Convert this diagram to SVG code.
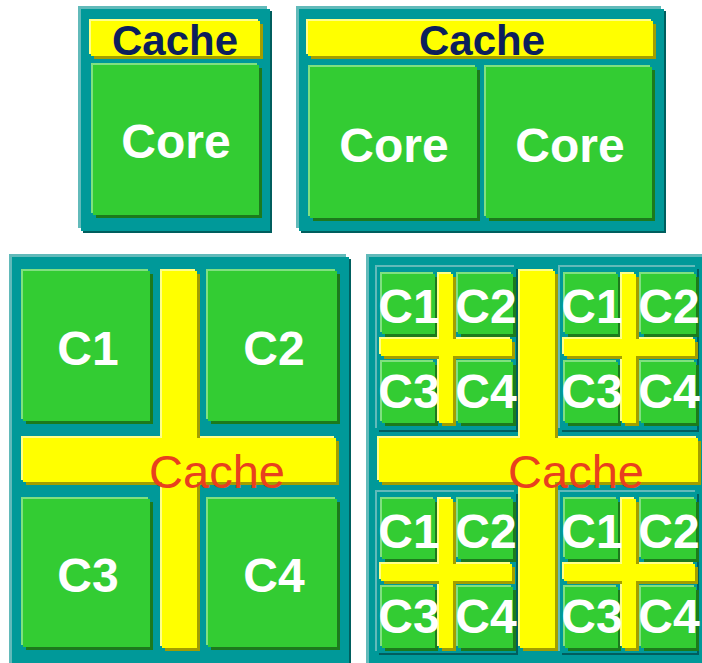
<svg xmlns="http://www.w3.org/2000/svg" width="702" height="663" viewBox="0 0 702 663">
  <style>
    .tl{fill:#62baba}.tm{fill:#009999}.td{fill:#005e5e}
    .gl{fill:#80e080}.gm{fill:#33cc33}.gd{fill:#1c7a1c}
    .yl{fill:#ffff88}.ym{fill:#ffff00}.yd{fill:#a39e00}
    text{font-family:"Liberation Sans",Arial,sans-serif;text-anchor:middle}
    .lab{font-weight:bold;font-size:48px;fill:#ffffff}
    .cache{font-weight:bold;font-size:42px;fill:#0c1f5c}
    .red{font-size:47px;fill:#e8401e}
  </style>
  <rect width="702" height="663" fill="#ffffff"/>

  <!-- Single core chip -->
  <g id="chip-single">
    <rect class="tl" x="78" y="6" width="189" height="222"/>
    <rect class="td" x="83" y="11" width="189" height="222"/>
    <rect class="tm" x="81" y="9" width="189" height="222"/>
    <g id="single-cache">
      <rect class="yl" x="89" y="19" width="169" height="35"/>
      <rect class="yd" x="94" y="24" width="169" height="35"/>
      <rect class="ym" x="91" y="21" width="169" height="35"/>
      <text class="cache" x="175" y="55">Cache</text>
    </g>
    <g id="single-core">
      <rect class="gl" x="91" y="63" width="166" height="150"/>
      <rect class="gd" x="96" y="68" width="166" height="150"/>
      <rect class="gm" x="93" y="65" width="166" height="150"/>
      <text class="lab" x="176" y="158">Core</text>
    </g>
  </g>

  <!-- Dual core chip -->
  <g id="chip-dual">
    <rect class="tl" x="296" y="6" width="365" height="222"/>
    <rect class="td" x="301" y="11" width="365" height="222"/>
    <rect class="tm" x="299" y="9" width="365" height="222"/>
    <g id="dual-cache">
      <rect class="yl" x="306" y="19" width="345" height="35"/>
      <rect class="yd" x="311" y="24" width="345" height="35"/>
      <rect class="ym" x="308" y="21" width="345" height="35"/>
      <text class="cache" x="482" y="55">Cache</text>
    </g>
    <g id="dual-core-1">
      <rect class="gl" x="308" y="65" width="167" height="151"/>
      <rect class="gd" x="313" y="70" width="167" height="151"/>
      <rect class="gm" x="310" y="67" width="167" height="151"/>
      <text class="lab" x="394" y="162">Core</text>
    </g>
    <g id="dual-core-2">
      <rect class="gl" x="484" y="65" width="166" height="151"/>
      <rect class="gd" x="489" y="70" width="166" height="151"/>
      <rect class="gm" x="486" y="67" width="166" height="151"/>
      <text class="lab" x="570" y="162">Core</text>
    </g>
  </g>

  <!-- Quad core chip -->
  <g id="chip-quad">
    <rect class="tl" x="9" y="254" width="337" height="420"/>
    <rect class="td" x="14" y="259" width="337" height="420"/>
    <rect class="tm" x="12" y="257" width="337" height="420"/>
    <g id="quad-cores">
      <rect class="gl" x="21" y="269" width="127" height="150"/>
      <rect class="gd" x="26" y="274" width="127" height="150"/>
      <rect class="gm" x="23" y="271" width="127" height="150"/>
      <rect class="gl" x="206" y="269" width="129" height="150"/>
      <rect class="gd" x="211" y="274" width="129" height="150"/>
      <rect class="gm" x="208" y="271" width="129" height="150"/>
      <rect class="gl" x="21" y="497" width="127" height="148"/>
      <rect class="gd" x="26" y="502" width="127" height="148"/>
      <rect class="gm" x="23" y="499" width="127" height="148"/>
      <rect class="gl" x="206" y="497" width="129" height="148"/>
      <rect class="gd" x="211" y="502" width="129" height="148"/>
      <rect class="gm" x="208" y="499" width="129" height="148"/>
    </g>
    <g id="quad-cache">
      <rect class="yl" x="160" y="269" width="35" height="377"/>
      <rect class="yl" x="21" y="436" width="313" height="44"/>
      <rect class="yd" x="165" y="274" width="35" height="377"/>
      <rect class="yd" x="26" y="441" width="313" height="44"/>
      <rect class="ym" x="162" y="271" width="35" height="377"/>
      <rect class="ym" x="23" y="438" width="313" height="44"/>
    </g>
    <text class="lab" x="88" y="365">C1</text>
    <text class="lab" x="274" y="365">C2</text>
    <text class="lab" x="88" y="592">C3</text>
    <text class="lab" x="274" y="592">C4</text>
    <text class="red" x="217" y="488">Cache</text>
  </g>

  <!-- Sixteen core chip: four quad clusters around a shared cache -->
  <defs>
    <g id="cluster">
      <rect class="gl" x="380" y="272" width="53" height="60"/>
      <rect class="gd" x="385" y="277" width="53" height="60"/>
      <rect class="gm" x="382" y="274" width="53" height="60"/>
      <rect class="gl" x="456" y="272" width="55" height="60"/>
      <rect class="gd" x="461" y="277" width="55" height="60"/>
      <rect class="gm" x="458" y="274" width="55" height="60"/>
      <rect class="gl" x="380" y="360" width="53" height="61"/>
      <rect class="gd" x="385" y="365" width="53" height="61"/>
      <rect class="gm" x="382" y="362" width="53" height="61"/>
      <rect class="gl" x="456" y="360" width="55" height="61"/>
      <rect class="gd" x="461" y="365" width="55" height="61"/>
      <rect class="gm" x="458" y="362" width="55" height="61"/>
      <rect class="yl" x="437" y="272" width="14" height="149"/>
      <rect class="yl" x="379" y="337" width="131" height="17"/>
      <rect class="yd" x="442" y="277" width="14" height="149"/>
      <rect class="yd" x="384" y="342" width="131" height="17"/>
      <rect class="ym" x="439" y="274" width="14" height="149"/>
      <rect class="ym" x="381" y="339" width="131" height="17"/>
      <text class="lab" x="409" y="323">C1</text>
      <text class="lab" x="486" y="323">C2</text>
      <text class="lab" x="409" y="408">C3</text>
      <text class="lab" x="486" y="408">C4</text>
    </g>
  </defs>
  <g id="chip-sixteen">
    <rect class="tl" x="366" y="254" width="340" height="420"/>
    <rect class="tm" x="369" y="257" width="340" height="420"/>
    <g id="cluster-frames">
      <rect class="tl" x="375" y="265" width="139" height="163"/>
      <rect class="td" x="379" y="269" width="139" height="163"/>
      <rect class="tm" x="377" y="267" width="139" height="163"/>
      <rect class="tl" x="558" y="265" width="137" height="163"/>
      <rect class="td" x="562" y="269" width="137" height="163"/>
      <rect class="tm" x="560" y="267" width="137" height="163"/>
      <rect class="tl" x="375" y="490" width="139" height="161"/>
      <rect class="td" x="379" y="494" width="139" height="161"/>
      <rect class="tm" x="377" y="492" width="139" height="161"/>
      <rect class="tl" x="558" y="490" width="137" height="161"/>
      <rect class="td" x="562" y="494" width="137" height="161"/>
      <rect class="tm" x="560" y="492" width="137" height="161"/>
    </g>
    <g id="shared-cache">
      <rect class="yl" x="518" y="269" width="35" height="377"/>
      <rect class="yl" x="377" y="436" width="319" height="44"/>
      <rect class="yd" x="523" y="274" width="35" height="377"/>
      <rect class="yd" x="382" y="441" width="319" height="44"/>
      <rect class="ym" x="520" y="271" width="35" height="377"/>
      <rect class="ym" x="379" y="438" width="319" height="44"/>
    </g>
    <use id="cluster-tl" href="#cluster"/>
    <use id="cluster-tr" href="#cluster" x="183"/>
    <use id="cluster-bl" href="#cluster" y="225"/>
    <use id="cluster-br" href="#cluster" x="183" y="225"/>
    <text class="red" x="576" y="488">Cache</text>
  </g>
</svg>
